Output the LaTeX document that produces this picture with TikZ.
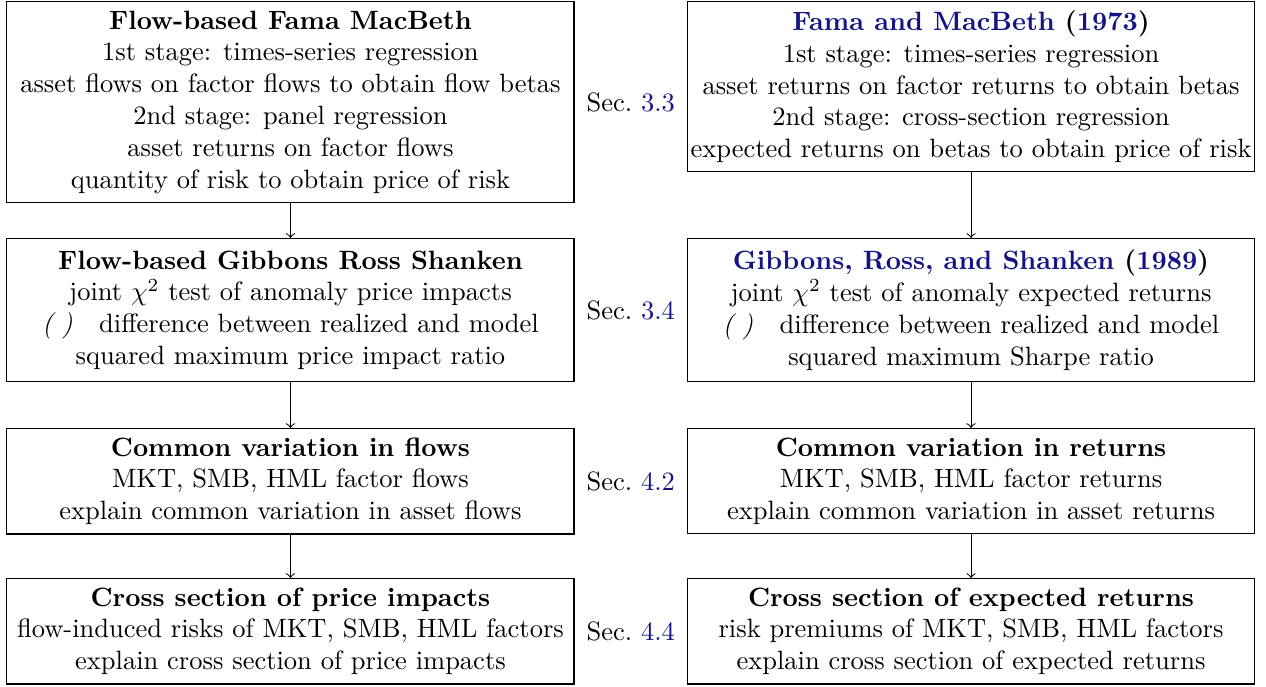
\documentclass[tikz,border=0pt]{standalone}
\usetikzlibrary{calc}
\definecolor{linkblue}{rgb}{0.08,0.08,0.52}
\tikzset{
  box/.style={draw, line width=0.45pt, align=center, anchor=north, minimum width=214pt, inner sep=3.4pt},
  tallbox/.style={box, minimum height=54pt},
  flow/.style={->, line width=0.4pt},
  seclabel/.style={inner sep=1pt}
}
\newcommand{\lnk}[1]{\textcolor{linkblue}{#1}}
\newcommand{\paren}{\textit{(\,\,)}\quad}
\begin{document}
\begin{tikzpicture}
\useasboundingbox (0,0) rectangle (477.7pt,-258.9pt);
\node[box] (L1) at (109.6pt,-0.4pt) {\textbf{Flow-based Fama MacBeth}\\
  1st stage: times-series regression\\
  asset flows on factor flows to obtain flow betas\\
  2nd stage: panel regression\\
  asset returns on factor flows\\
  quantity of risk to obtain price of risk};
\node[box] (R1) at (366.4pt,-0.4pt) {\textbf{\lnk{Fama and MacBeth} (\lnk{1973})}\\
  1st stage: times-series regression\\
  asset returns on factor returns to obtain betas\\
  2nd stage: cross-section regression\\
  \makebox[207pt]{expected returns on betas to obtain price of risk}};
\node[tallbox] (L2) at (109.6pt,-89.8pt) {\textbf{Flow-based Gibbons Ross Shanken}\\
  joint $\chi^2$ test of anomaly price impacts\\
  \paren difference between realized and model\\
  squared maximum price impact ratio};
\node[tallbox] (R2) at (366.4pt,-89.8pt) {\textbf{\lnk{Gibbons, Ross, and Shanken} (\lnk{1989})}\\
  joint $\chi^2$ test of anomaly expected returns\\
  \paren difference between realized and model\\
  squared maximum Sharpe ratio};
\node[box] (L3) at (109.6pt,-161.5pt) {\textbf{Common variation in flows}\\
  MKT, SMB, HML factor flows\\
  explain common variation in asset flows};
\node[box] (R3) at (366.4pt,-161.5pt) {\textbf{Common variation in returns}\\
  MKT, SMB, HML factor returns\\
  explain common variation in asset returns};
\node[box] (L4) at (109.6pt,-218.1pt) {\textbf{Cross section of price impacts}\\
  flow-induced risks of MKT, SMB, HML factors\\
  explain cross section of price impacts};
\node[box] (R4) at (366.4pt,-218.1pt) {\textbf{Cross section of expected returns}\\
  risk premiums of MKT, SMB, HML factors\\
  explain cross section of expected returns};
\node[seclabel] (S1) at ($(L1.east)!0.5!(L1.east -| R1.west)$) {Sec.~\lnk{3.3}};
\node[seclabel] (S2) at ($(L2.east)!0.5!(L2.east -| R2.west)$) {Sec.~\lnk{3.4}};
\node[seclabel] (S3) at ($(L3.east)!0.5!(L3.east -| R3.west)$) {Sec.~\lnk{4.2}};
\node[seclabel] (S4) at ($(L4.east)!0.5!(L4.east -| R4.west)$) {Sec.~\lnk{4.4}};
\draw[flow] (L1) -- (L2);
\draw[flow] (L2) -- (L3);
\draw[flow] (L3) -- (L4);
\draw[flow] (R1) -- (R2);
\draw[flow] (R2) -- (R3);
\draw[flow] (R3) -- (R4);
\end{tikzpicture}
\end{document}
